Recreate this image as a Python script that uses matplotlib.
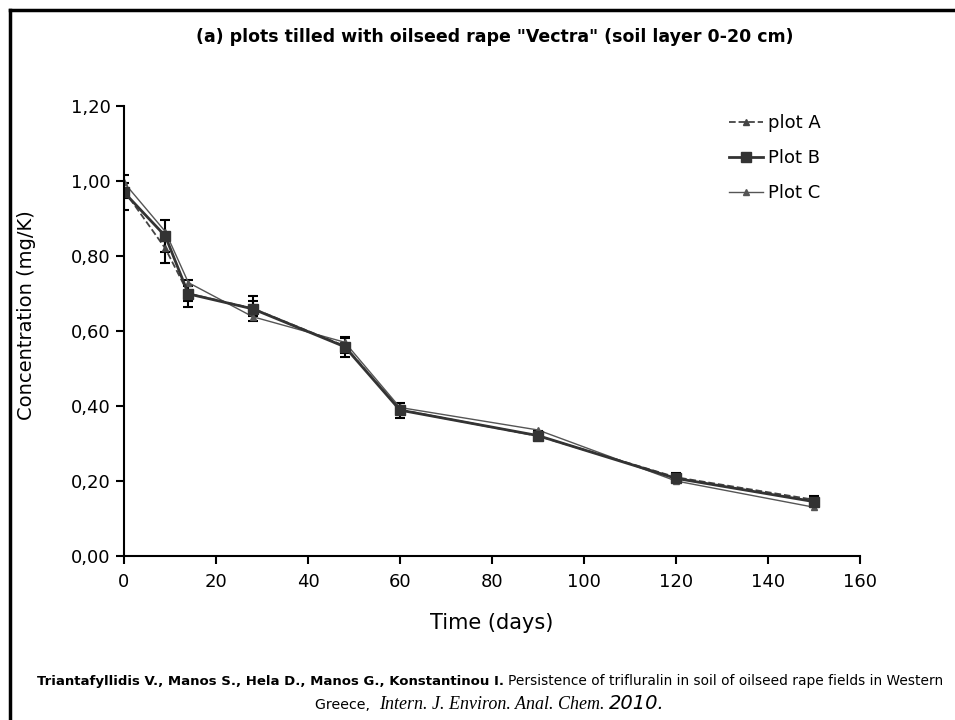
import matplotlib
matplotlib.use("Agg")
import matplotlib.pyplot as plt
from matplotlib.lines import Line2D
from matplotlib.ticker import FuncFormatter

plt.rcParams['font.family'] = ['DejaVu Sans']

# data
days = [0, 9, 14, 28, 48, 60, 90, 120, 150]
plot_a = [0.975, 0.82, 0.70, 0.66, 0.56, 0.39, 0.32, 0.21, 0.15]
plot_b = [0.970, 0.853, 0.699, 0.659, 0.558, 0.389, 0.321, 0.207, 0.145]
plot_c = [0.996, 0.865, 0.729, 0.638, 0.570, 0.396, 0.336, 0.200, 0.130]
err_a = [0.02, 0.04, 0.02, 0.02, 0.02, 0.01, 0.01, 0.01, 0.01]
err_b = [0.047, 0.042, 0.036, 0.033, 0.027, 0.02, 0.012, 0.01, 0.01]
labels = ["plot A", "Plot B", "Plot C"]
y_ticks = [0.0, 0.2, 0.4, 0.6, 0.8, 1.0, 1.2]
x_ticks = [0, 20, 40, 60, 80, 100, 120, 140, 160]

fig = plt.figure(figsize=(9.55, 7.2), dpi=100)
ax = fig.add_axes([0.1298, 0.2278, 0.7707, 0.625])

ax.errorbar(days, plot_a, yerr=err_a, color='#444444', ls='--', lw=1.3,
            marker='^', ms=5, ecolor='black', elinewidth=1.5, capsize=3.5,
            capthick=1.5, label=labels[0])
ax.errorbar(days, plot_b, yerr=err_b, color='#333333', ls='-', lw=2.0,
            marker='s', ms=7, ecolor='black', elinewidth=1.5, capsize=3.5,
            capthick=1.5, label=labels[1])
ax.plot(days, plot_c, color='#555555', ls='-', lw=1.0, marker='^', ms=4,
        label=labels[2])

ax.set_xlim(0, 160)
ax.set_ylim(0, 1.2)
ax.set_xticks(x_ticks)
ax.set_yticks(y_ticks)
ax.yaxis.set_major_formatter(FuncFormatter(lambda v, p: f"{v:.2f}".replace('.', ',')))
ax.spines['top'].set_visible(False)
ax.spines['right'].set_visible(False)
ax.spines['left'].set_linewidth(1.5)
ax.spines['bottom'].set_linewidth(1.5)
ax.tick_params(direction='out', length=6, width=1.5, labelsize=13)
ax.tick_params(axis='x', pad=6)

ax.set_xlabel("Time (days)", fontsize=15)
ax.set_ylabel("Concentration (mg/K)", fontsize=14)
ax.xaxis.set_label_coords(0.5, -0.149)
ax.xaxis.label.set_va('center')
ax.yaxis.set_label_coords(-0.133, 0.536)
ax.yaxis.label.set_va('center')

handles = [
    Line2D([], [], color='#444444', ls='--', lw=1.3, marker='^', ms=5),
    Line2D([], [], color='#333333', ls='-', lw=2.0, marker='s', ms=7),
    Line2D([], [], color='#555555', ls='-', lw=1.0, marker='^', ms=4),
]
ax.legend(handles, labels, loc='upper left', bbox_to_anchor=(0.822, 0.982),
          frameon=False, fontsize=13, handlelength=1.9, handletextpad=0.28,
          labelspacing=0.95, borderpad=0, borderaxespad=0)

fig.text(0.518, 1 - 37 / 720, '(a) plots tilled with oilseed rape "Vectra" (soil layer 0-20 cm)',
         ha='center', va='center', fontsize=12.5, fontweight='bold')

# frame lines (left and top only, image cropped)
fig.add_artist(Line2D([0.0105, 0.0105], [0, 0.986], color='black', lw=2.5,
                      transform=fig.transFigure))
fig.add_artist(Line2D([0.0105, 1.0], [0.986, 0.986], color='black', lw=2.5,
                      transform=fig.transFigure))


def place_line(pieces, y):
    # draw text pieces one after another, centred as a whole
    renderer = fig.canvas.get_renderer()
    texts = []
    for s, kw in pieces:
        t = fig.text(0, y, s, va='baseline', ha='left', **kw)
        texts.append(t)
    widths = [t.get_window_extent(renderer).width for t in texts]
    total = sum(widths)
    x = fig.bbox.width * 0.513 - total / 2
    for t, w in zip(texts, widths):
        t.set_x(x / fig.bbox.width)
        x += w


place_line([
    ("Triantafyllidis V., Manos S., Hela D., Manos G., Konstantinou I. ",
     dict(fontsize=9.5, fontweight='bold')),
    ("Persistence of trifluralin in soil of oilseed rape fields in Western",
     dict(fontsize=9.9)),
], 1 - 685 / 720)
place_line([
    ("Greece,  ", dict(fontsize=10.2)),
    ("Intern. J. Environ. Anal. Chem. ", dict(fontsize=13, style='italic',
                                              family=['Liberation Serif', 'DejaVu Serif'])),
    ("2010.", dict(fontsize=14, style='italic')),
], 1 - 709 / 720)

fig.savefig("out.png", dpi=100)
